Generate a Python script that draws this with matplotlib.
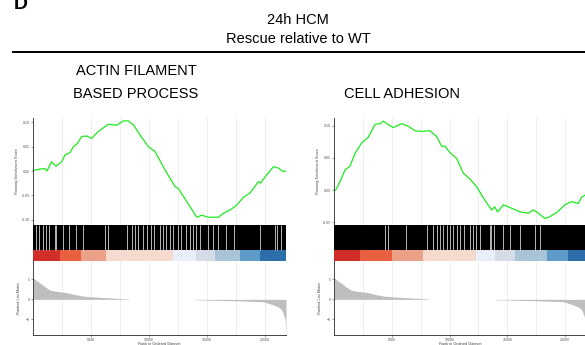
import matplotlib
matplotlib.use('Agg')
import matplotlib.pyplot as plt

plt.rcParams['font.family'] = ['Liberation Sans', 'DejaVu Sans']

W, H = 585, 345

# --- data ---
n_genes = 21800

# running enrichment score, left panel (ACTIN FILAMENT BASED PROCESS)
es_rank_a = [0, 170, 600, 1030, 1200, 1600, 1980, 2470, 2760, 3190, 3480, 3800, 4200, 4630, 5060,
             5400, 5780, 6490, 6900, 7180, 7790, 8220, 8650, 9220, 9940, 10520, 11380, 12240, 12530,
             13250, 14110, 14540, 15120, 15980, 16400, 16980, 17560, 18130, 18710, 19420, 19600,
             20140, 20720, 21150, 21530, 21800]
es_val_a = [0.0, 0.002, 0.004, 0.005, 0.0, 0.019, 0.010, 0.019, 0.033, 0.038, 0.050, 0.056, 0.071,
            0.072, 0.067, 0.076, 0.084, 0.096, 0.095, 0.094, 0.103, 0.103, 0.095, 0.074, 0.050,
            0.040, 0.002, -0.032, -0.036, -0.063, -0.095, -0.091, -0.095, -0.095, -0.087, -0.080,
            -0.070, -0.054, -0.045, -0.022, -0.025, -0.008, 0.009, 0.006, -0.001, 0.0]

# running enrichment score, right panel (CELL ADHESION)
es_rank_b = [0, 150, 520, 950, 1380, 1820, 2390, 2970, 3550, 3980, 4270, 4560, 5130, 5860, 6430,
             7010, 7580, 8300, 8880, 9310, 9600, 10030, 10610, 11190, 11760, 12340, 13060, 13640,
             13900, 14150, 14650, 15200, 16090, 16810, 17240, 17600, 18250, 18600, 19260, 19980,
             20560, 21130, 21420, 21710, 21800]
es_val_b = [0.0, 0.0, 0.013, 0.031, 0.037, 0.057, 0.073, 0.082, 0.102, 0.103, 0.107, 0.103, 0.097,
            0.103, 0.099, 0.092, 0.091, 0.092, 0.083, 0.068, 0.068, 0.058, 0.049, 0.026, 0.017,
            0.005, -0.016, -0.031, -0.026, -0.034, -0.023, -0.027, -0.034, -0.036, -0.031, -0.035,
            -0.044, -0.042, -0.035, -0.023, -0.018, -0.021, -0.011, -0.008, -0.006]

# ranks without hits (white gaps in the black hit band)
gaps_a = [233, 543, 836, 1121, 1379, 1897, 1983, 2612, 3129, 3707, 4284, 6207, 6491, 8078, 8509,
          8793, 9078, 9509, 9802, 10172, 10431, 10922, 11207, 11491, 11784, 12069, 12500, 12784,
          13216, 13509, 13793, 14078, 14371, 15086, 15517, 15948, 16664, 17328, 19543, 20836,
          21060, 21405]
gaps_b = [4412, 4697, 6228, 8071, 8590, 8884, 9170, 9455, 9749, 10035, 10320, 10614, 10874, 11246,
          11739, 12024, 12310, 12604, 13469, 13607, 13841, 14619, 15199, 16064, 17362, 17794]

# colour band bins (rank edges) and colours
band_edges_a = [0, 2330, 4140, 6290, 12070, 14080, 15660, 17820, 19540, 21800]
band_edges_b = [0, 2250, 5000, 7670, 12310, 13900, 15680, 18450, 20240, 21800]
band_colors = ['#D12D29', '#E8603F', '#EBA088', '#F6DACF', '#E9EFF8', '#D6DCE7', '#AAC4D7',
               '#5D9CC8', '#2B6EAA']

# ranked list metric
metric_rank = [0, 150, 600, 1000, 1470, 2000, 2900, 3600, 4340, 5000, 5780, 7000, 8220, 8300,
               13950, 14000, 16000, 18000, 19850, 20720, 21200, 21440, 21600, 21730, 21800]
metric_val = [5.6, 5.0, 4.1, 3.2, 2.3, 2.0, 1.7, 1.2, 0.8, 0.65, 0.5, 0.3, 0.1, 0.0, 0.0, -0.1,
              -0.25, -0.4, -0.6, -1.4, -2.0, -2.7, -3.8, -5.2, -8.9]

x_ticks = [5000, 10000, 15000, 20000]
es_ticks_a = [-0.10, -0.05, 0.00, 0.05, 0.10]
es_ticks_b = [-0.05, 0.00, 0.05, 0.10]
metric_ticks = [-5, 0, 5]


def box(x0, y0, x1, y1):
    # pixel box (from top-left) -> figure fraction rect
    return [x0 / W, 1 - y1 / H, (x1 - x0) / W, (y1 - y0) / H]


def small_axis(ax):
    ax.tick_params(axis='both', labelsize=2.6, colors='#555555', length=1.2, width=0.4, pad=0.8)
    for s in ax.spines.values():
        s.set_visible(False)


fig = plt.figure(figsize=(W / 100, H / 100), dpi=100)

fig.text(14 / W, 1 - 9 / H, 'D', fontsize=14, fontweight='bold', va='baseline', ha='left')
fig.text(298 / W, 1 - 19.5 / H, '24h HCM', fontsize=10.5, ha='center', va='center')
fig.text(298 / W, 1 - 39 / H, 'Rescue relative to WT', fontsize=10.5, ha='center', va='center')
fig.add_artist(plt.Line2D([13 / W, 1], [1 - 52 / H, 1 - 52 / H], color='black', lw=1.4))

fig.text(136 / W, 1 - 71 / H, 'ACTIN FILAMENT', fontsize=10.5, ha='center', va='center')
fig.text(136 / W, 1 - 94 / H, 'BASED PROCESS', fontsize=10.5, ha='center', va='center')
fig.text(402 / W, 1 - 94.5 / H, 'CELL ADHESION', fontsize=10.5, ha='center', va='center')

panels = [
    (33, 286, es_rank_a, es_val_a, (-0.111, 0.109), es_ticks_a, gaps_a, band_edges_a),
    (334, 586, es_rank_b, es_val_b, (-0.0543, 0.1118), es_ticks_b, gaps_b, band_edges_b),
]

for x0, x1, ranks, vals, ylim, yt, gaps, edges in panels:
    # running enrichment score
    ax = fig.add_axes(box(x0, 118, x1, 225))
    small_axis(ax)
    ax.spines['left'].set_visible(True)
    ax.spines['left'].set_color('#444444')
    ax.spines['left'].set_linewidth(0.7)
    for g in range(2500, n_genes, 2500):
        ax.axvline(g, color='#EBEBEB', lw=0.6, zorder=0)
    ax.plot(ranks, vals, color='#1FEA1F', lw=0.9)
    ax.set_xlim(0, n_genes)
    ax.set_ylim(*ylim)
    ax.set_yticks(yt)
    ax.set_yticklabels([f'{v:.2f}' for v in yt])
    ax.set_xticks([])
    ax.set_ylabel('Running Enrichment Score', fontsize=2.8, color='#444444', labelpad=2)

    # hit band + colour band
    axb = fig.add_axes(box(x0, 225.3, x1, 261.3))
    axb.set_xlim(0, n_genes)
    axb.set_ylim(0, 36)
    axb.axis('off')
    axb.broken_barh([(0, n_genes)], (11, 25), facecolor='black')
    axb.vlines(gaps, 11, 36, color='#CCCCCC', lw=0.7, alpha=0.9)
    for i, c in enumerate(band_colors):
        axb.broken_barh([(edges[i], edges[i + 1] - edges[i])], (0, 11), facecolor=c)

    # ranked list metric
    axm = fig.add_axes(box(x0, 261.3, x1, 335))
    small_axis(axm)
    for side in ('left', 'bottom'):
        axm.spines[side].set_visible(True)
        axm.spines[side].set_color('#444444')
        axm.spines[side].set_linewidth(0.7)
    for g in range(2500, n_genes, 2500):
        axm.axvline(g, color='#EBEBEB', lw=0.6, zorder=0)
    axm.fill_between(metric_rank, metric_val, 0, color='#BEBEBE', lw=0)
    axm.set_xlim(0, n_genes)
    axm.set_ylim(-8.9, 9.5)
    axm.set_yticks(metric_ticks)
    axm.set_xticks(x_ticks)
    axm.set_ylabel('Ranked List Metric', fontsize=2.8, color='#444444', labelpad=3.5)
    axm.set_xlabel('Rank in Ordered Dataset', fontsize=2.8, color='#444444', labelpad=0.3)

fig.savefig('out.png', dpi=100)
